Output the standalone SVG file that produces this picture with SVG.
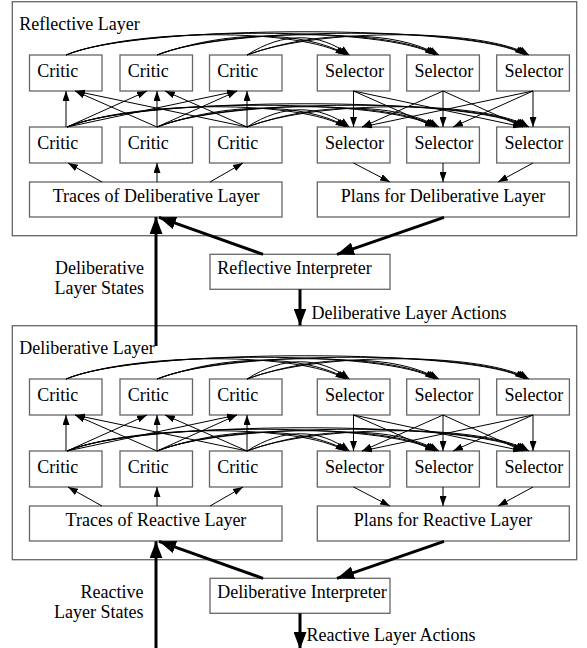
<svg xmlns="http://www.w3.org/2000/svg" width="587" height="648" viewBox="0 0 587 648">
<style>
text{font-family:"Liberation Serif","Times New Roman",serif;font-size:18px;fill:#000}
.m{text-anchor:middle}
.r{text-anchor:end}
.box{fill:#fff;stroke:#666;stroke-width:1.3}
.panel{fill:none;stroke:#666;stroke-width:1.3}
.e{fill:none;stroke:#000;stroke-width:1;marker-end:url(#a)}
.E{fill:none;stroke:#000;stroke-width:3;marker-end:url(#A)}
</style>
<defs>
<marker id="a" markerUnits="userSpaceOnUse" markerWidth="10" markerHeight="7" refX="10" refY="3.5" orient="auto"><path d="M0,0 L10,3.5 L0,7 z" fill="#000"/></marker>
<marker id="A" markerUnits="userSpaceOnUse" markerWidth="17" markerHeight="13" refX="17" refY="6.5" orient="auto"><path d="M0,0 L17,6.5 L0,13 z" fill="#000"/></marker>
</defs>

<!-- Top panel -->
<g id="reflective-layer"><rect class="panel" x="12.3" y="1.7" width="564.4" height="234"/><text x="19.3" y="30">Reflective Layer</text></g>
<g id="r-critic-1-1"><rect class="box" x="29.5" y="55" width="72.5" height="36"/><text x="37.2" y="76.5">Critic</text></g>
<g id="r-critic-1-2"><rect class="box" x="120" y="55" width="72.5" height="36"/><text x="127.7" y="76.5">Critic</text></g>
<g id="r-critic-1-3"><rect class="box" x="209.5" y="55" width="72.5" height="36"/><text x="217.2" y="76.5">Critic</text></g>
<g id="r-selector-1-1"><rect class="box" x="317.3" y="55" width="72.7" height="36"/><text x="325" y="76.5">Selector</text></g>
<g id="r-selector-1-2"><rect class="box" x="406.7" y="55" width="72.7" height="36"/><text x="414.4" y="76.5">Selector</text></g>
<g id="r-selector-1-3"><rect class="box" x="496.7" y="55" width="72.7" height="36"/><text x="504.4" y="76.5">Selector</text></g>
<g id="r-critic-2-1"><rect class="box" x="29.5" y="127" width="72.5" height="36"/><text x="37.2" y="148.5">Critic</text></g>
<g id="r-critic-2-2"><rect class="box" x="120" y="127" width="72.5" height="36"/><text x="127.7" y="148.5">Critic</text></g>
<g id="r-critic-2-3"><rect class="box" x="209.5" y="127" width="72.5" height="36"/><text x="217.2" y="148.5">Critic</text></g>
<g id="r-selector-2-1"><rect class="box" x="317.3" y="127" width="72.7" height="36"/><text x="325" y="148.5">Selector</text></g>
<g id="r-selector-2-2"><rect class="box" x="406.7" y="127" width="72.7" height="36"/><text x="414.4" y="148.5">Selector</text></g>
<g id="r-selector-2-3"><rect class="box" x="496.7" y="127" width="72.7" height="36"/><text x="504.4" y="148.5">Selector</text></g>
<g id="r-traces"><rect class="box" x="29.5" y="182" width="252.5" height="35"/><text class="m" x="156" y="202">Traces of Deliberative Layer</text></g>
<g id="r-plans"><rect class="box" x="317.3" y="182" width="252" height="35"/><text class="m" x="443" y="202">Plans for Deliberative Layer</text></g>

<g id="reflective-interpreter"><rect class="box" x="210" y="254.3" width="180" height="35"/><text x="217.3" y="273.5">Reflective Interpreter</text></g>

<!-- Middle panel -->
<g transform="translate(0,324)">
<g id="deliberative-layer"><rect class="panel" x="12.3" y="1.7" width="564.4" height="234"/><text x="19.3" y="30">Deliberative Layer</text></g>
<g id="d-critic-1-1"><rect class="box" x="29.5" y="55" width="72.5" height="36"/><text x="37.2" y="76.5">Critic</text></g>
<g id="d-critic-1-2"><rect class="box" x="120" y="55" width="72.5" height="36"/><text x="127.7" y="76.5">Critic</text></g>
<g id="d-critic-1-3"><rect class="box" x="209.5" y="55" width="72.5" height="36"/><text x="217.2" y="76.5">Critic</text></g>
<g id="d-selector-1-1"><rect class="box" x="317.3" y="55" width="72.7" height="36"/><text x="325" y="76.5">Selector</text></g>
<g id="d-selector-1-2"><rect class="box" x="406.7" y="55" width="72.7" height="36"/><text x="414.4" y="76.5">Selector</text></g>
<g id="d-selector-1-3"><rect class="box" x="496.7" y="55" width="72.7" height="36"/><text x="504.4" y="76.5">Selector</text></g>
<g id="d-critic-2-1"><rect class="box" x="29.5" y="127" width="72.5" height="36"/><text x="37.2" y="148.5">Critic</text></g>
<g id="d-critic-2-2"><rect class="box" x="120" y="127" width="72.5" height="36"/><text x="127.7" y="148.5">Critic</text></g>
<g id="d-critic-2-3"><rect class="box" x="209.5" y="127" width="72.5" height="36"/><text x="217.2" y="148.5">Critic</text></g>
<g id="d-selector-2-1"><rect class="box" x="317.3" y="127" width="72.7" height="36"/><text x="325" y="148.5">Selector</text></g>
<g id="d-selector-2-2"><rect class="box" x="406.7" y="127" width="72.7" height="36"/><text x="414.4" y="148.5">Selector</text></g>
<g id="d-selector-2-3"><rect class="box" x="496.7" y="127" width="72.7" height="36"/><text x="504.4" y="148.5">Selector</text></g>
<g id="d-traces"><rect class="box" x="29.5" y="182" width="252.5" height="35"/><text class="m" x="156" y="202">Traces of Reactive Layer</text></g>
<g id="d-plans"><rect class="box" x="317.3" y="182" width="252" height="35"/><text class="m" x="443" y="202">Plans for Reactive Layer</text></g>
<g id="deliberative-interpreter"><rect class="box" x="210" y="254.3" width="180" height="35"/><text x="217.3" y="273.5">Deliberative Interpreter</text></g>
</g>

<g id="connectors">
<g id="top-edges">
<path class="e" d="M66,127 L66,91"/>
<path class="e" d="M67,127 L147,91"/>
<path class="e" d="M67,127 L237,91"/>
<path class="e" d="M157,127 L75,91"/>
<path class="e" d="M157,127 L157,91"/>
<path class="e" d="M157,127 L237,91"/>
<path class="e" d="M247,127 L75,91"/>
<path class="e" d="M247,127 L165,91"/>
<path class="e" d="M247,127 L247,91"/>
<path class="e" d="M353.5,91 L353.5,127"/>
<path class="e" d="M353.5,91 L435,127"/>
<path class="e" d="M353.5,91 L523,127"/>
<path class="e" d="M443,91 L362,127"/>
<path class="e" d="M443,91 L443,127"/>
<path class="e" d="M443,91 L523,127"/>
<path class="e" d="M533,91 L362,127"/>
<path class="e" d="M533,91 L453,127"/>
<path class="e" d="M533,91 L533,127"/>
<path class="e" d="M102,182 L68,163"/>
<path class="e" d="M157,182 L157,163"/>
<path class="e" d="M210,182 L243,163"/>
<path class="e" d="M353.5,163 L390,182"/>
<path class="e" d="M443,163 L443,182"/>
<path class="e" d="M533,163 L498,182"/>
<path class="e" d="M66,55 C136,28 300.5,28 345.5,55"/>
<path class="e" d="M66,55 C136,26 390,26 435,55"/>
<path class="e" d="M66,55 C136,24 480,24 525,55"/>
<path class="e" d="M157,55 C227,30 302.5,30 347.5,55"/>
<path class="e" d="M157,55 C227,28 392,28 437,55"/>
<path class="e" d="M157,55 C227,26 482,26 527,55"/>
<path class="e" d="M247,55 C283,32 319,32 349.5,55"/>
<path class="e" d="M247,55 C317,30 394,30 439,55"/>
<path class="e" d="M247,55 C317,28 484,28 529,55"/>
<path class="e" d="M67,127 C137,100 300.5,100 345.5,127"/>
<path class="e" d="M67,127 C137,98 390,98 435,127"/>
<path class="e" d="M67,127 C137,96 480,96 525,127"/>
<path class="e" d="M157,127 C227,102 302.5,102 347.5,127"/>
<path class="e" d="M157,127 C227,100 392,100 437,127"/>
<path class="e" d="M157,127 C227,98 482,98 527,127"/>
<path class="e" d="M247,127 C283,104 319,104 349.5,127"/>
<path class="e" d="M247,127 C317,102 394,102 439,127"/>
<path class="e" d="M247,127 C317,100 484,100 529,127"/>
</g>
<g id="middle-edges" transform="translate(0,324)">
<path class="e" d="M66,127 L66,91"/>
<path class="e" d="M67,127 L147,91"/>
<path class="e" d="M67,127 L237,91"/>
<path class="e" d="M157,127 L75,91"/>
<path class="e" d="M157,127 L157,91"/>
<path class="e" d="M157,127 L237,91"/>
<path class="e" d="M247,127 L75,91"/>
<path class="e" d="M247,127 L165,91"/>
<path class="e" d="M247,127 L247,91"/>
<path class="e" d="M353.5,91 L353.5,127"/>
<path class="e" d="M353.5,91 L435,127"/>
<path class="e" d="M353.5,91 L523,127"/>
<path class="e" d="M443,91 L362,127"/>
<path class="e" d="M443,91 L443,127"/>
<path class="e" d="M443,91 L523,127"/>
<path class="e" d="M533,91 L362,127"/>
<path class="e" d="M533,91 L453,127"/>
<path class="e" d="M533,91 L533,127"/>
<path class="e" d="M102,182 L68,163"/>
<path class="e" d="M157,182 L157,163"/>
<path class="e" d="M210,182 L243,163"/>
<path class="e" d="M353.5,163 L390,182"/>
<path class="e" d="M443,163 L443,182"/>
<path class="e" d="M533,163 L498,182"/>
<path class="e" d="M66,55 C136,28 300.5,28 345.5,55"/>
<path class="e" d="M66,55 C136,26 390,26 435,55"/>
<path class="e" d="M66,55 C136,24 480,24 525,55"/>
<path class="e" d="M157,55 C227,30 302.5,30 347.5,55"/>
<path class="e" d="M157,55 C227,28 392,28 437,55"/>
<path class="e" d="M157,55 C227,26 482,26 527,55"/>
<path class="e" d="M247,55 C283,32 319,32 349.5,55"/>
<path class="e" d="M247,55 C317,30 394,30 439,55"/>
<path class="e" d="M247,55 C317,28 484,28 529,55"/>
<path class="e" d="M67,127 C137,100 300.5,100 345.5,127"/>
<path class="e" d="M67,127 C137,98 390,98 435,127"/>
<path class="e" d="M67,127 C137,96 480,96 525,127"/>
<path class="e" d="M157,127 C227,102 302.5,102 347.5,127"/>
<path class="e" d="M157,127 C227,100 392,100 437,127"/>
<path class="e" d="M157,127 C227,98 482,98 527,127"/>
<path class="e" d="M247,127 C283,104 319,104 349.5,127"/>
<path class="e" d="M247,127 C317,102 394,102 439,127"/>
<path class="e" d="M247,127 C317,100 484,100 529,127"/>
</g>
<g id="inter-layer">
<path class="E" d="M156,346 L156,217"/>
<path class="E" d="M263,254.3 L159,217.3"/>
<path class="E" d="M444,217.3 L337,254.3"/>
<path class="E" d="M300,289.3 L300,325.5"/>
<path class="E" d="M156,660 L156,541.3"/>
<path class="E" d="M263,578.3 L159,541.3"/>
<path class="E" d="M444,541.3 L337,578.3"/>
<path class="E" d="M300,613.3 L300,649"/>
</g>
</g>

<g id="labels">
<text class="r" x="144" y="274">Deliberative</text>
<text class="r" x="144" y="294">Layer States</text>
<text x="311.5" y="319">Deliberative Layer Actions</text>
<text class="r" x="143.5" y="598">Reactive</text>
<text class="r" x="143.5" y="618">Layer States</text>
<text x="306.5" y="641">Reactive Layer Actions</text>
</g>
</svg>
